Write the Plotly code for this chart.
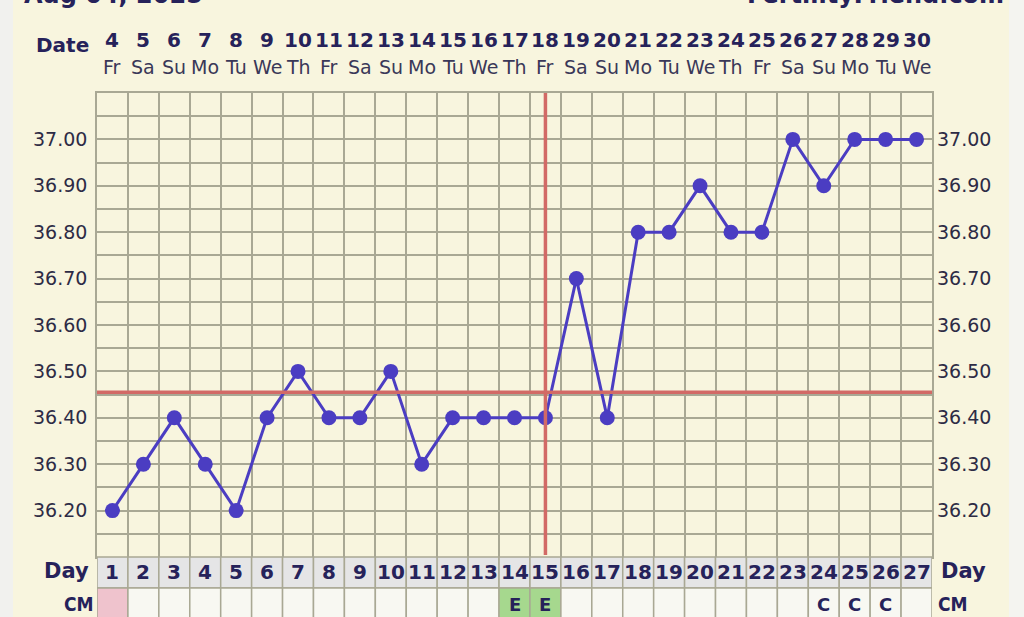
import plotly.graph_objects as go

# ---- data ----
cycle_days = list(range(1, 28))
dates = list(range(4, 31))
weekdays = (["Fr", "Sa", "Su", "Mo", "Tu", "We", "Th"] * 4)[:27]
temps = [36.20, 36.30, 36.40, 36.30, 36.20, 36.40, 36.50, 36.40, 36.40, 36.50,
         36.30, 36.40, 36.40, 36.40, 36.40, 36.70, 36.40, 36.80, 36.80, 36.90,
         36.80, 36.80, 37.00, 36.90, 37.00, 37.00, 37.00]
cm = ["", "", "", "", "", "", "", "", "", "", "", "", "", "E", "E",
      "", "", "", "", "", "", "", "", "C", "C", "C", ""]
cm_colors = {1: "#efc3cd", 14: "#a6d88e", 15: "#a6d88e"}
cover_line = 36.455
ovulation_day = 15
y_ticks = [36.20, 36.30, 36.40, 36.50, 36.60, 36.70, 36.80, 36.90, 37.00]
title_left = "Aug 04, 2025"
title_right = "FertilityFriend.com"

W, H = 1024, 617
L, R, T, B = 97, 92, 93, 0
PH = H - T - B


def py(p):
    return (H - B - p) / PH


def px(p):
    return (p - L) / (W - L - R)


NAVY = "#26225a"
GRID = "#a9a894"
BG = "#f8f5de"
FONT = "DejaVu Sans"

fig = go.Figure()
fig.add_trace(go.Scatter(
    x=cycle_days, y=temps, mode="lines+markers",
    line=dict(color="#4b3dc2", width=3),
    marker=dict(size=15, color="#4b3dc2"),
    hoverinfo="skip", showlegend=False))
fig.add_trace(go.Scatter(x=[1], y=[temps[0]], yaxis="y2", mode="markers",
                         marker=dict(opacity=0), showlegend=False, hoverinfo="skip"))

shapes = []
shapes.append(dict(type="rect", xref="paper", yref="paper", x0=px(0), x1=px(13), y0=py(H + 10), y1=py(-10),
                   fillcolor="#f1f1ee", line=dict(width=0), layer="below"))
shapes.append(dict(type="rect", xref="paper", yref="paper", x0=px(1009), x1=px(W + 10), y0=py(H + 10), y1=py(-10),
                   fillcolor="#f4f4f0", line=dict(width=0), layer="below"))
shapes.append(dict(type="line", xref="x", yref="y", x0=0.5, x1=27.5, y0=cover_line, y1=cover_line,
                   line=dict(color="#d26a66", width=3.5)))
shapes.append(dict(type="line", xref="x", yref="paper", x0=ovulation_day, x1=ovulation_day,
                   y0=py(555), y1=1, line=dict(color="#d26a66", width=3.5)))

annotations = []


def ann(x, y, text, size, bold=True, xref="x", xanchor="center", color=NAVY, family=FONT):
    annotations.append(dict(x=x, y=y, xref=xref, yref="paper", text=text, showarrow=False,
                            xanchor=xanchor, yanchor="middle",
                            font=dict(family=family, size=size, color=color,
                                      weight="bold" if bold else "normal")))


day_top, day_bot, cm_bot = 557, 588, 630
for i, d in enumerate(cycle_days):
    shapes.append(dict(type="rect", xref="x", yref="paper", x0=d - 0.5, x1=d + 0.5,
                       y0=py(day_bot), y1=py(day_top), fillcolor="#e5e5e6",
                       line=dict(color=GRID, width=1.5)))
    shapes.append(dict(type="rect", xref="x", yref="paper", x0=d - 0.5, x1=d + 0.5,
                       y0=py(cm_bot), y1=py(day_bot), fillcolor=cm_colors.get(d, "#f8f8f2"),
                       line=dict(color=GRID, width=1.5)))
    ann(d, py(572), str(d), 20)
    if cm[i]:
        ann(d, py(604), cm[i], 18)
    ann(d, py(40), str(dates[i]), 20)
    ann(d, py(67), weekdays[i], 19, bold=False, color="#3a3858")

ann(px(91), py(45), "Date", 20, xref="paper", xanchor="right")
ann(px(91), py(571), "Day", 21, xref="paper", xanchor="right")
ann(px(939), py(571), "Day", 21, xref="paper", xanchor="left")
ann(px(96), py(604), "CM", 19, xref="paper", xanchor="right", family="Liberation Sans Narrow, DejaVu Sans Condensed, DejaVu Sans")
ann(px(936), py(604), "CM", 19, xref="paper", xanchor="left", family="Liberation Sans Narrow, DejaVu Sans Condensed, DejaVu Sans")
ann(px(22), py(-5), title_left, 24, xref="paper", xanchor="left")
ann(px(1006), py(-5), title_right, 24, xref="paper", xanchor="right")

ydom = [py(day_top), 1]
yaxis_common = dict(range=[36.10, 37.10], domain=ydom, tickvals=y_ticks,
                    ticktext=[f"{v:.2f}" for v in y_ticks],
                    tickfont=dict(family=FONT, size=19, color="#2d2b45"), ticks="", zeroline=False,
                    fixedrange=True)

fig.update_layout(
    width=W, height=H, margin=dict(l=L, r=R, t=T, b=B, autoexpand=False),
    paper_bgcolor=BG, plot_bgcolor=BG,
    xaxis=dict(range=[0.5, 27.5], tickvals=[x + 0.5 for x in range(1, 27)], showticklabels=False,
               showgrid=True, gridcolor=GRID, gridwidth=1.5, zeroline=False, ticks="",
               showline=True, linecolor=GRID, linewidth=1.5, mirror=True, fixedrange=True),
    yaxis=dict(**yaxis_common, showline=True, linecolor=GRID, linewidth=1.5, mirror=True,
               showgrid=True, gridcolor=GRID, gridwidth=1.5,
               minor=dict(dtick=0.05, tick0=36.10, showgrid=True, gridcolor=GRID, gridwidth=1.5),
               ticklabelstandoff=4),
    yaxis2=dict(**yaxis_common, overlaying="y", side="right", showgrid=False, ticklabelstandoff=4),
    shapes=shapes, annotations=annotations, showlegend=False,
)
fig.write_html("out.html", config={"displayModeBar": False},
               post_script="document.body.style.margin='0';document.body.style.overflow='hidden';")
